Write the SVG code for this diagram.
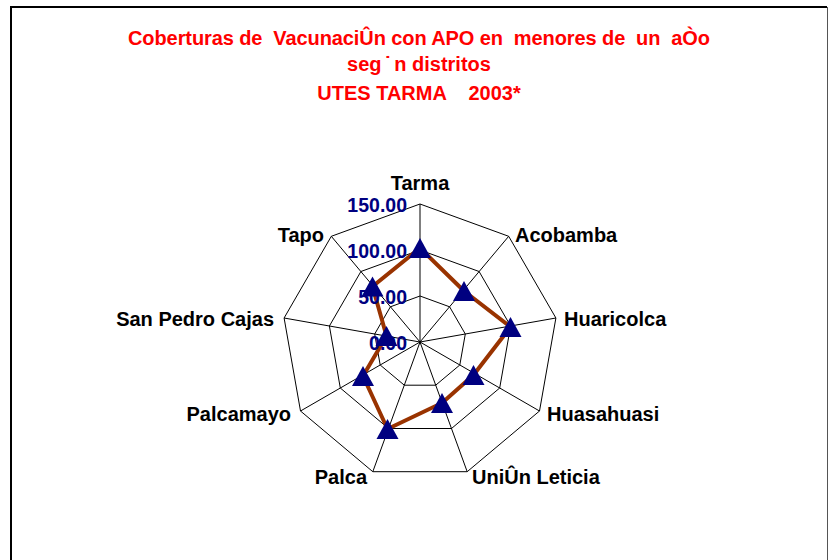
<svg xmlns="http://www.w3.org/2000/svg" xmlns:xlink="http://www.w3.org/1999/xlink" width="828" height="560" viewBox="0 0 828 560">
  <style>
    .title { font-family: "Liberation Sans", Arial, sans-serif; font-weight: bold; font-size: 20px; fill: #ff0000; text-anchor: middle; white-space: pre; }
    .cat { font-family: "Liberation Sans", Arial, sans-serif; font-weight: bold; font-size: 20px; fill: #000000; }
    .val { font-family: "Liberation Sans", Arial, sans-serif; font-weight: bold; font-size: 19.5px; fill: #000080; text-anchor: end; }
    .grid { fill: none; stroke: #000000; stroke-width: 1; }
    .series { fill: none; stroke: #993300; stroke-width: 4; stroke-linejoin: round; }
  </style>
  <defs>
    <path id="tri" d="M0,-10 L11,10 L-11,10 Z" fill="#000080"/>
  </defs>
  <rect x="0" y="0" width="828" height="560" fill="#ffffff"/>
  <!-- frame -->
  <path d="M11,561 V7 H827" fill="none" stroke="#000000" stroke-width="2"/>
  <line x1="827.5" y1="7" x2="827.5" y2="561" stroke="#555555" stroke-width="1"/>

  <!-- title -->
  <g id="title">
    <text class="title" x="419" y="45" xml:space="preserve" textLength="582">Coberturas de  VacunaciÛn con APO en  menores de  un  aÒo</text>
    <text class="title" x="419" y="70.5" xml:space="preserve">seg<tspan dx="3">˙</tspan><tspan dx="3">n</tspan> distritos</text>
    <text class="title" x="419" y="99.5" xml:space="preserve">UTES TARMA    2003*</text>
  </g>

  <!-- grid -->
  <g id="grid">
    <polygon class="grid" points="420,204 508.7,236.3 555.9,318 539.5,411 467.2,471.7 372.8,471.7 300.5,411 284.1,318 331.3,236.3"/>
    <polygon class="grid" points="420,250 479.1,271.5 510.6,326 499.7,388 451.5,428.5 388.5,428.5 340.3,388 329.4,326 360.9,271.5"/>
    <polygon class="grid" points="420,296 449.6,306.8 465.3,334 459.8,365 435.7,385.2 404.3,385.2 380.2,365 374.7,334 390.4,306.8"/>
    <path class="grid" d="M420,342 L420,204 M420,342 L508.7,236.3 M420,342 L555.9,318 M420,342 L539.5,411 M420,342 L467.2,471.7 M420,342 L372.8,471.7 M420,342 L300.5,411 M420,342 L284.1,318 M420,342 L331.3,236.3"/>
  </g>

  <!-- series line -->
  <g id="connectors">
    <polygon class="series" points="420,248 464,291 510.5,327 473.5,375 442,403 387.5,429 363,376 386.5,336 372.5,286.5"/>
  </g>

  <!-- value axis labels -->
  <g id="value-axis">
    <text class="val" x="407" y="212">150.00</text>
    <text class="val" x="407" y="258">100.00</text>
    <text class="val" x="407" y="304">50.00</text>
    <text class="val" x="407" y="350">0.00</text>
  </g>

  <!-- category labels -->
  <g id="categories">
    <g id="cat-tarma"><text class="cat" x="420" y="190" text-anchor="middle">Tarma</text></g>
    <g id="cat-acobamba"><text class="cat" x="515" y="242">Acobamba</text></g>
    <g id="cat-huaricolca"><text class="cat" x="564" y="326">Huaricolca</text></g>
    <g id="cat-huasahuasi"><text class="cat" x="547" y="421">Huasahuasi</text></g>
    <g id="cat-union"><text class="cat" x="472" y="484">UniÛn Leticia</text></g>
    <g id="cat-palca"><text class="cat" x="367" y="484" text-anchor="end">Palca</text></g>
    <g id="cat-palcamayo"><text class="cat" x="291" y="421" text-anchor="end">Palcamayo</text></g>
    <g id="cat-sanpedro"><text class="cat" x="274" y="326" text-anchor="end">San Pedro Cajas</text></g>
    <g id="cat-tapo"><text class="cat" x="324" y="242" text-anchor="end">Tapo</text></g>
  </g>

  <!-- markers -->
  <g id="markers">
    <use xlink:href="#tri" x="420" y="248"/>
    <use xlink:href="#tri" x="464" y="291"/>
    <use xlink:href="#tri" x="510.5" y="327"/>
    <use xlink:href="#tri" x="473.5" y="375"/>
    <use xlink:href="#tri" x="442" y="403"/>
    <use xlink:href="#tri" x="387.5" y="429"/>
    <use xlink:href="#tri" x="363" y="376"/>
    <use xlink:href="#tri" x="386.5" y="336"/>
    <use xlink:href="#tri" x="372.5" y="286.5"/>
  </g>
</svg>
